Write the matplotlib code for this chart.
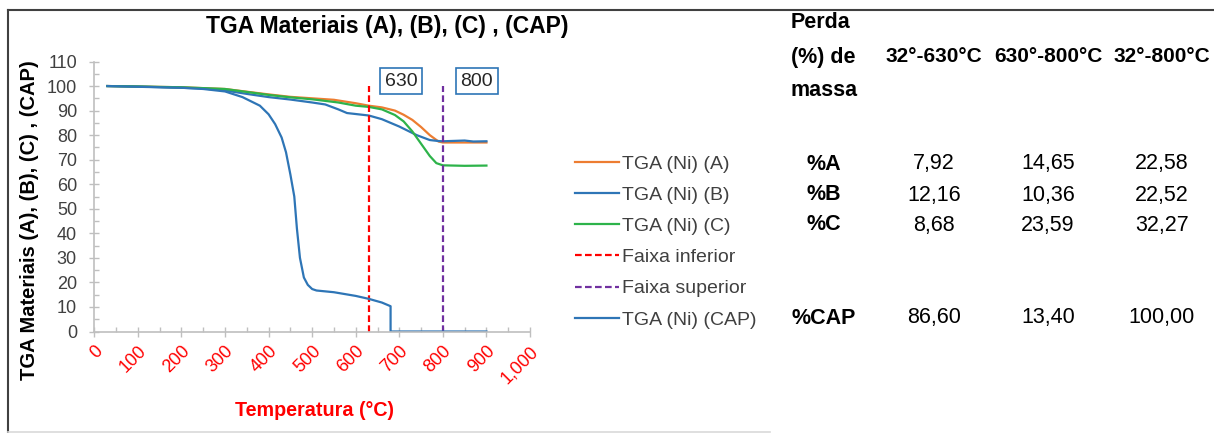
import matplotlib
matplotlib.use('Agg')
import matplotlib.pyplot as plt
from matplotlib.lines import Line2D
from matplotlib.ticker import MultipleLocator, FuncFormatter

plt.rcParams['font.family'] = ['Liberation Sans', 'DejaVu Sans']

# curvas TGA (temperatura em °C, massa em %)
temp_a = [30, 100, 200, 300, 400, 450, 500, 550, 600, 630, 660, 690, 710, 730, 750, 770, 790, 800, 850, 900]
massa_a = [100, 99.8, 99.5, 98.8, 96.6, 95.6, 95.0, 94.4, 93.0, 92.0, 91.3, 90.0, 88.3, 86.2, 83.3, 80.0, 77.4, 77.0, 77.0, 77.0]

temp_b = [30, 100, 200, 250, 300, 350, 400, 450, 500, 530, 560, 580, 600, 630, 660, 700, 740, 770, 790, 800, 850, 870, 900]
massa_b = [100, 99.8, 99.3, 99.0, 98.2, 96.8, 95.5, 94.5, 93.3, 92.5, 90.5, 89.0, 88.6, 88.0, 86.5, 83.5, 80.0, 78.0, 77.6, 77.5, 77.8, 77.4, 77.5]

temp_c = [30, 100, 200, 300, 400, 450, 500, 560, 600, 630, 660, 690, 710, 730, 750, 770, 785, 800, 850, 900]
massa_c = [100, 99.8, 99.5, 98.8, 96.4, 95.4, 94.6, 93.3, 92.0, 91.5, 90.5, 88.2, 85.6, 81.5, 76.5, 71.5, 68.6, 67.7, 67.5, 67.6]

temp_cap = [30, 100, 200, 250, 300, 340, 380, 400, 415, 430, 440, 450, 459, 465, 472, 481, 490, 500, 510, 550, 600, 630, 660, 680, 680, 700, 800, 900]
massa_cap = [100, 99.7, 99.3, 98.8, 97.8, 95.5, 92.0, 88.5, 84.5, 79.0, 73.0, 64.0, 55.0, 42.0, 30.0, 22.0, 19.0, 17.3, 16.7, 16.0, 14.5, 13.3, 11.8, 10.3, 0, 0, 0, 0]

faixa_inferior = 630
faixa_superior = 800
faixa_y = [0, 100]

# tabela de perda de massa
colunas = ['32°-630°C', '630°-800°C', '32°-800°C']
linhas = ['%A', '%B', '%C', '%CAP']
perda = [['7,92', '14,65', '22,58'],
         ['12,16', '10,36', '22,52'],
         ['8,68', '23,59', '32,27'],
         ['86,60', '13,40', '100,00']]

W, H = 1214, 433
fig = plt.figure(figsize=(W / 100, H / 100), dpi=100)


def fx(px):
    return px / W


def fy(py):
    return 1 - py / H


ax = fig.add_axes([fx(94.3), fy(331.5), fx(530) - fx(94.3), fy(61.5) - fy(331.5)])

cor_a = '#ED7D31'
cor_b = '#2E75B6'
cor_c = '#2DB34A'
l_a, = ax.plot(temp_a, massa_a, color=cor_a, lw=1.6, label='TGA (Ni) (A)')
l_b, = ax.plot(temp_b, massa_b, color=cor_b, lw=1.6, label='TGA (Ni) (B)')
l_c, = ax.plot(temp_c, massa_c, color=cor_c, lw=1.6, label='TGA (Ni) (C)')
l_inf, = ax.plot([faixa_inferior] * 2, faixa_y, color='#FF0000', lw=1.6, ls=(0, (3, 1.5)), label='Faixa inferior')
l_sup, = ax.plot([faixa_superior] * 2, faixa_y, color='#7030A0', lw=1.6, ls=(0, (3, 1.5)), label='Faixa superior')
l_cap, = ax.plot(temp_cap, massa_cap, color=cor_b, lw=1.6, label='TGA (Ni) (CAP)')

ax.set_xlim(0, 1000)
ax.set_ylim(0, 110)
ax.xaxis.set_major_locator(MultipleLocator(100))
ax.xaxis.set_minor_locator(MultipleLocator(50))
ax.yaxis.set_major_locator(MultipleLocator(10))
ax.yaxis.set_minor_locator(MultipleLocator(5))
ax.xaxis.set_major_formatter(FuncFormatter(lambda v, p: f'{int(v):,}'))

for s in ['top', 'right']:
    ax.spines[s].set_visible(False)
for s in ['left', 'bottom']:
    ax.spines[s].set_color('#BFBFBF')
    ax.spines[s].set_linewidth(1.2)

ax.tick_params(axis='both', which='major', direction='inout', length=7, width=1, color='#BFBFBF')
ax.tick_params(axis='both', which='minor', direction='in', length=3.5, width=1, color='#BFBFBF')
ax.tick_params(axis='y', labelsize=13, labelcolor='#404040', pad=9)
ax.tick_params(axis='x', labelsize=13, labelcolor='#FF0000', pad=4.5)
for lab in ax.get_xticklabels():
    lab.set_rotation(45)
    lab.set_ha('right')
    lab.set_rotation_mode('anchor')

# caixas de texto 630 / 800
caixa = dict(boxstyle='square,pad=0.25', fc='white', ec='#2E75B6', lw=1.2)
ax.text(704, 102, '630', fontsize=14, color='#262626', ha='center', va='center', bbox=caixa)
ax.text(878, 102, '800', fontsize=14, color='#262626', ha='center', va='center', bbox=caixa)

fig.text(fx(387.5), fy(26), 'TGA Materiais (A), (B), (C) , (CAP)', fontsize=16.5, fontweight='bold',
         ha='center', va='center')
fig.text(fx(30), fy(220), 'TGA Materiais (A), (B), (C) , (CAP)', fontsize=14.5, fontweight='bold',
         rotation=90, ha='center', va='center')
fig.text(fx(314.5), fy(410), 'Temperatura (°C)', fontsize=14.2, fontweight='bold', color='#FF0000',
         ha='center', va='center')

fig.legend(handles=[l_a, l_b, l_c, l_inf, l_sup, l_cap], loc='upper left',
           bbox_to_anchor=(fx(575), fy(155)), frameon=False, fontsize=14,
           handlelength=2.26, handletextpad=0.14, labelspacing=0.7, labelcolor='#404040',
           borderpad=0, borderaxespad=0)

# tabela
fig.text(fx(791), fy(23), 'Perda', fontsize=15.5, fontweight='bold', ha='left', va='center')
fig.text(fx(791), fy(57), '(%) de', fontsize=15.5, fontweight='bold', ha='left', va='center')
fig.text(fx(791), fy(90), 'massa', fontsize=15.5, fontweight='bold', ha='left', va='center')
col_x = [934, 1048, 1162]
linha_y = [164, 195, 225, 318]
for cx, nome in zip(col_x, colunas):
    fig.text(fx(cx), fy(57), nome, fontsize=15, fontweight='bold', ha='center', va='center')
for ly, nome, vals in zip(linha_y, linhas, perda):
    fig.text(fx(824), fy(ly), nome, fontsize=15.5, fontweight='bold', ha='center', va='center')
    for cx, v in zip(col_x, vals):
        fig.text(fx(cx), fy(ly), v, fontsize=15.5, ha='center', va='center')

# moldura
fig.add_artist(Line2D([fx(8), fx(1214)], [fy(9.5), fy(9.5)], color='#404040', lw=1.5))
fig.add_artist(Line2D([fx(8), fx(8)], [fy(9.5), fy(432)], color='#404040', lw=1.5))
fig.add_artist(Line2D([fx(8), fx(770)], [fy(431.5), fy(431.5)], color='#D9D9D9', lw=1.2))

fig.savefig('out.png', dpi=100)
